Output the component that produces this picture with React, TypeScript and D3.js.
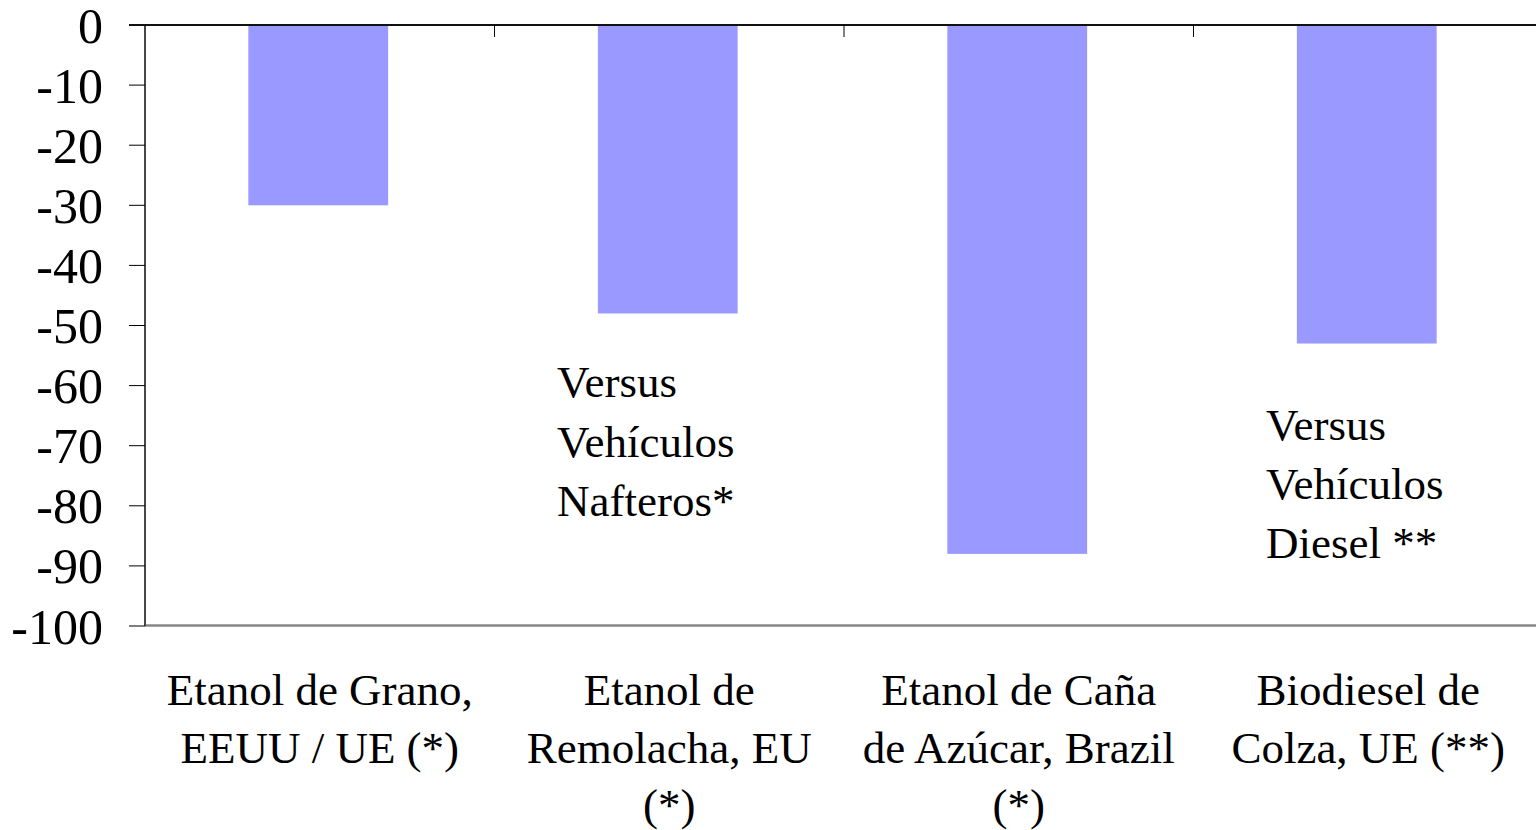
import React from "react";
import * as d3 from "d3";

const categories = ["c1", "c2", "c3", "c4"];
const categoryLabels: string[][] = [
  ["Etanol de Grano,", "EEUU / UE (*)"],
  ["Etanol de", "Remolacha, EU", "(*)"],
  ["Etanol de Caña", "de Azúcar, Brazil", "(*)"],
  ["Biodiesel de", "Colza, UE (**)"],
];
const values = [-30, -48, -88, -53];
const yTicks = [0, -10, -20, -30, -40, -50, -60, -70, -80, -90, -100];
const annotation1 = ["Versus", "Vehículos", "Nafteros*"];
const annotation2 = ["Versus", "Vehículos", "Diesel **"];

const W = 1536;
const H = 830;
const left = 145;
const right = 1543;
const top = 25;
const bottom = 626;
const serif = "'Liberation Serif', 'Times New Roman', serif";

export default function App() {
  const x = d3.scaleBand<string>().domain(categories).range([left, right]).padding(0);
  const y = d3.scaleLinear().domain([0, -100]).range([top, bottom]);
  const bw = x.bandwidth() * 0.4;

  return (
    <svg
      width={W}
      height={H}
      style={{ position: "absolute", left: 0, top: 0, background: "#fff" }}
    >
      <rect x={0} y={0} width={W} height={H} fill="#fff" />
      {/* bars */}
      {values.map((v, i) => {
        const cx = (x(categories[i]) as number) + x.bandwidth() / 2 - 1.5;
        return (
          <rect
            key={i}
            x={cx - bw / 2}
            y={y(0)}
            width={bw}
            height={y(v) - y(0)}
            fill="#9999FF"
          />
        );
      })}
      {/* bottom frame line */}
      <line x1={left} x2={W} y1={bottom - 0.5} y2={bottom - 0.5} stroke="#878787" strokeWidth={2.6} />
      {/* y axis line */}
      <line x1={left} x2={left} y1={top} y2={bottom} stroke="#474747" strokeWidth={2} />
      {/* y ticks */}
      {yTicks.map((t) => (
        <g key={t}>
          <line x1={129} x2={left} y1={y(t)} y2={y(t)} stroke="#000" strokeWidth={1} />
          <text
            x={103}
            y={y(t)}
            dy="0.35em"
            textAnchor="end"
            fontFamily={serif}
            fontSize={50}
            fill="#000"
          >
            {t}
          </text>
        </g>
      ))}
      {/* top axis (zero line) */}
      <line x1={129} x2={W} y1={top} y2={top} stroke="#111" strokeWidth={2} />
      {categories.slice(1).map((c) => (
        <line
          key={c}
          x1={x(c) as number}
          x2={x(c) as number}
          y1={top}
          y2={top + 12}
          stroke="#000"
          strokeWidth={1}
        />
      ))}
      {/* category labels */}
      {categories.map((c, i) => {
        const cx = (x(c) as number) + x.bandwidth() / 2;
        return (
          <text key={c} fontFamily={serif} fontSize={45} textAnchor="middle" fill="#000">
            {categoryLabels[i].map((line, j) => (
              <tspan key={j} x={cx} y={705 + j * 57.5}>
                {line}
              </tspan>
            ))}
          </text>
        );
      })}
      {/* annotations */}
      <text fontFamily={serif} fontSize={45} fill="#000">
        {annotation1.map((line, j) => (
          <tspan key={j} x={557} y={397 + j * 59.5}>
            {line}
          </tspan>
        ))}
      </text>
      <text fontFamily={serif} fontSize={45} fill="#000">
        {annotation2.map((line, j) => (
          <tspan key={j} x={1266} y={440 + j * 59}>
            {line}
          </tspan>
        ))}
      </text>
    </svg>
  );
}
